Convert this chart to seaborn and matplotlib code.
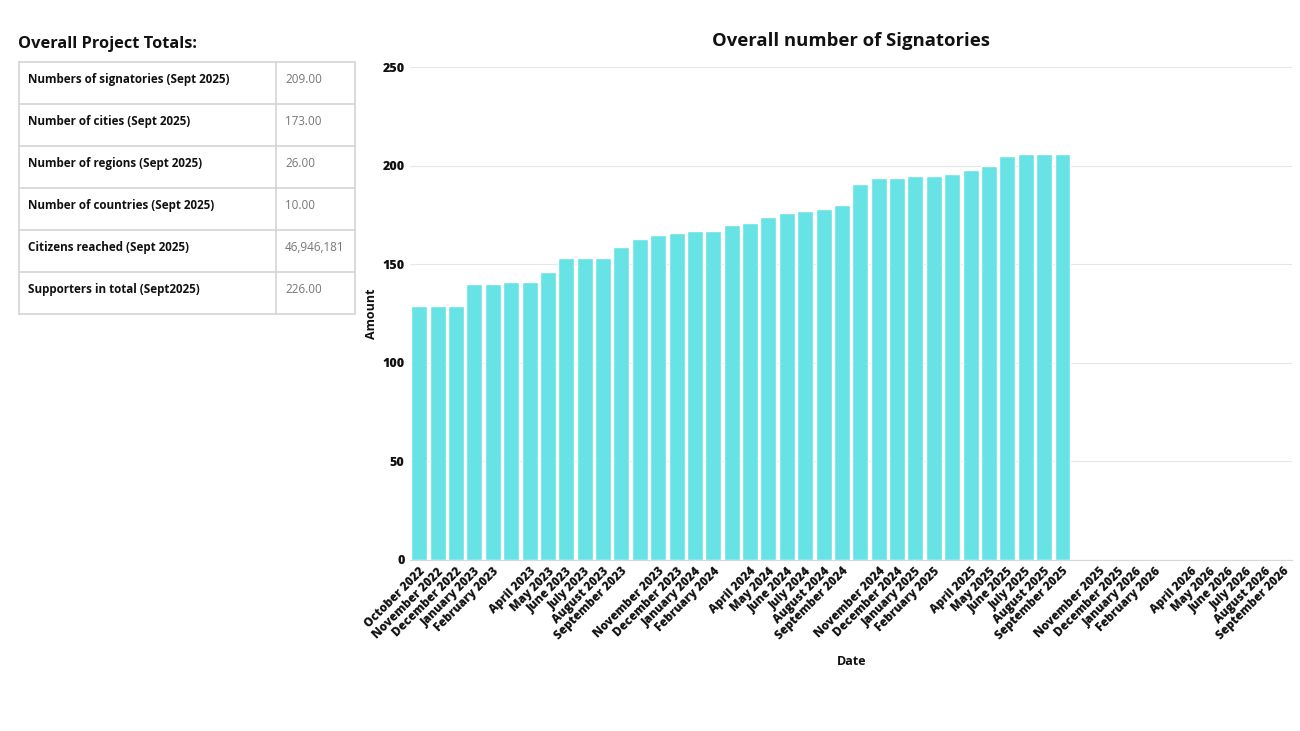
import numpy as np
import pandas as pd
import seaborn as sns
import matplotlib.pyplot as plt

# months on the x axis (oct 2022 - sep 2026)
months = ['October 2022', 'November 2022', 'December 2022', 'January 2023', 'February 2023', 'March 2023',
          'April 2023', 'May 2023', 'June 2023', 'July 2023', 'August 2023', 'September 2023',
          'October 2023', 'November 2023', 'December 2023', 'January 2024', 'February 2024', 'March 2024',
          'April 2024', 'May 2024', 'June 2024', 'July 2024', 'August 2024', 'September 2024',
          'October 2024', 'November 2024', 'December 2024', 'January 2025', 'February 2025', 'March 2025',
          'April 2025', 'May 2025', 'June 2025', 'July 2025', 'August 2025', 'September 2025',
          'October 2025', 'November 2025', 'December 2025', 'January 2026', 'February 2026', 'March 2026',
          'April 2026', 'May 2026', 'June 2026', 'July 2026', 'August 2026', 'September 2026']
# labels that the original chart leaves out
hidden = ['March 2023', 'October 2023', 'March 2024', 'October 2024', 'March 2025', 'October 2025', 'March 2026']

# signatories per month (only up to sept 2025)
signatories = [129, 129, 129, 140, 140, 141, 141, 146, 153, 153, 153, 159,
               163, 165, 166, 167, 167, 170, 171, 174, 176, 177, 178, 180,
               191, 194, 194, 195, 195, 196, 198, 200, 205, 206, 206, 206]

table_labels = ['Numbers of signatories (Sept 2025)', 'Number of cities (Sept 2025)',
                'Number of regions (Sept 2025)', 'Number of countries (Sept 2025)',
                'Citizens reached (Sept 2025)', 'Supporters in total (Sept2025)']
table_values = ['209.00', '173.00', '26.00', '10.00', '46,946,181', '226.00']

sns.set_style('white')
plt.rcParams['font.family'] = ['Open Sans', 'DejaVu Sans']

df = pd.DataFrame({'Date': months[:len(signatories)], 'Amount': signatories})

fig = plt.figure(figsize=(13, 7.31), dpi=100)
ax = fig.add_axes([0.3155, 0.234, 0.6785, 0.674])

sns.barplot(data=df, x='Date', y='Amount', order=months, color='#67e3e6',
            saturation=1, width=0.87, ax=ax)

ax.set_ylim(0, 250)
ax.set_xlim(-0.5, len(months) - 0.5)
ax.set_yticks([0, 50, 100, 150, 200, 250])
ax.yaxis.grid(True, color='#e6e6e6', lw=0.8)
ax.set_axisbelow(True)
for s in ['top', 'right', 'left']:
    ax.spines[s].set_visible(False)
ax.spines['bottom'].set_color('#d8d8d8')
ax.tick_params(axis='both', length=0, pad=4)

ax.set_xticks(range(len(months)))
ax.set_xticklabels([m if m not in hidden else '' for m in months],
                   rotation=45, ha='right', rotation_mode='anchor',
                   fontsize=8.5, fontweight='heavy', color='#111111')
for t in ax.get_yticklabels():
    t.set_fontweight('heavy')
    t.set_fontsize(9)
    t.set_color('#111111')

ax.set_xlabel('Date', fontsize=9, fontweight='bold', labelpad=9, color='#111111')
ax.set_ylabel('Amount', fontsize=9, fontweight='bold', labelpad=3, color='#111111')
ax.set_title('Overall number of Signatories', fontsize=13.3, fontweight='bold', pad=15, color='#111111')

# table on the left
fig.text(18 / 1300, 1 - 44 / 731, 'Overall Project Totals:', fontsize=11.8, fontweight='bold',
         va='center', ha='left', color='#111111')
tx = fig.add_axes([0, 0, 1, 1])
tx.set_xlim(0, 1300)
tx.set_ylim(731, 0)
tx.axis('off')
x0, x1, x2 = 18.5, 276, 355
y0, rh = 62, 42
n = len(table_labels)
lc = '#d4d4d4'
for i in range(n + 1):
    tx.plot([x0, x2], [y0 + i * rh, y0 + i * rh], color=lc, lw=1.2)
for x in [x0, x1, x2]:
    tx.plot([x, x], [y0, y0 + n * rh], color=lc, lw=1.2)
for i, (lab, val) in enumerate(zip(table_labels, table_values)):
    yy = y0 + i * rh + 17.5
    tx.text(x0 + 9.5, yy, lab, fontsize=8.4, fontweight='bold', va='center', color='#111111')
    tx.text(x1 + 9, yy, val, fontsize=8.4, va='center', color='#777777')

fig.savefig('out.png', dpi=100)
